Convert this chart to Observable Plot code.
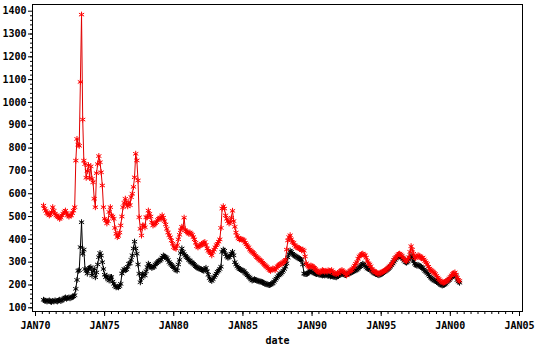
<!DOCTYPE html>
<html><head><meta charset="utf-8">
<script src="https://cdn.jsdelivr.net/npm/d3@7"></script>
<script src="https://cdn.jsdelivr.net/npm/@observablehq/plot@0.6"></script>
<style>html,body{margin:0;padding:0;background:#fff}</style>
</head><body><div id="chart"></div>
<script>
// Monthly series, first value = Aug 1970, last = Sep 2000
const firstYear = 1970, firstMonth = 8;
const redSeries = [
  548,534,525,515,512,
  505,510,519,541,525,512,505,500,497,490,495,505,
  512,520,526,515,505,500,505,505,515,526,541,745,
  840,815,810,1090,1385,925,745,730,670,700,725,670,
  720,665,650,578,541,690,730,765,738,694,636,541,
  490,483,470,480,520,541,505,500,490,450,425,410,
  415,430,461,500,541,560,578,556,545,563,550,585,
  600,630,672,775,746,658,497,446,417,461,460,453,
  497,497,526,512,500,475,461,465,470,475,485,490,
  495,490,505,495,480,465,446,430,418,409,395,381,
  366,362,359,375,400,420,440,455,450,495,440,435,
  430,425,430,425,420,410,400,385,370,365,370,375,
  380,378,385,388,375,360,350,345,340,330,345,355,
  365,375,380,390,400,450,535,545,535,505,490,480,
  470,475,495,525,480,455,430,415,405,400,402,400,
  398,395,385,378,370,365,355,350,345,340,335,328,
  322,318,312,308,305,298,293,288,282,278,272,266,
  262,268,272,270,265,275,282,286,290,293,295,300,
  305,310,355,395,410,418,400,388,385,375,368,366,
  362,360,358,352,355,350,325,295,285,280,282,285,
  283,278,275,270,264,260,256,255,260,265,262,258,
  262,258,264,262,260,265,258,252,250,248,252,250,
  258,262,265,260,255,250,242,248,258,262,265,270,
  278,285,293,300,315,325,330,335,337,332,330,320,
  305,295,290,282,270,263,260,256,255,250,249,252,
  255,258,260,262,265,270,275,280,285,292,300,310,
  318,322,330,335,337,333,328,320,312,307,305,312,
  322,345,370,355,337,322,318,325,330,328,320,318,
  320,312,305,298,292,280,272,266,262,258,252,248,
  240,232,226,220,215,212,210,212,215,218,222,228,
  235,242,248,252,255,245,232,222,218
];
const blackSeries = [
  135,132,130,128,130,
  132,128,126,130,128,132,130,128,132,135,130,133,
  138,142,145,140,143,145,142,145,148,150,155,183,
  222,262,265,366,475,337,355,270,262,250,270,275,
  278,242,260,271,234,255,290,322,340,329,300,270,
  245,234,240,225,220,234,235,215,205,195,190,192,
  190,195,205,250,262,270,265,268,280,293,295,310,
  330,360,390,360,337,290,249,212,230,249,245,242,
  260,278,293,285,280,275,278,280,290,295,300,305,
  307,312,320,329,325,322,318,310,300,293,288,282,
  278,270,265,263,290,310,340,360,345,335,328,322,
  318,310,307,300,298,293,288,282,278,275,272,270,
  268,265,263,270,275,260,245,230,222,218,225,235,
  242,250,258,263,270,280,345,355,350,335,325,320,
  322,330,337,345,330,300,290,282,275,270,268,265,
  262,260,252,248,242,236,232,225,220,222,225,222,
  220,218,216,215,214,212,210,206,204,203,201,200,
  202,205,208,214,222,228,235,242,246,250,256,262,
  270,280,295,320,335,350,345,337,332,328,325,322,
  318,315,312,310,290,250,248,248,250,255,260,263,
  258,255,252,250,248,250,246,245,244,242,244,242,
  245,243,240,242,238,240,238,236,235,234,238,240,
  244,248,250,248,245,244,246,248,250,253,256,258,
  260,263,265,268,272,278,282,288,293,290,284,278,
  272,270,271,266,260,256,252,249,248,245,243,245,
  248,252,255,258,262,266,270,275,280,287,294,302,
  310,316,322,326,328,324,320,314,306,300,298,302,
  310,320,330,320,305,293,288,285,288,285,280,278,
  275,268,262,258,252,245,238,232,228,224,220,218,
  215,212,208,205,200,198,200,202,206,212,218,222,
  228,234,238,242,244,238,222,215,210
];
const yTickValues = [100,200,300,400,500,600,700,800,900,1000,1100,1200,1300,1400];
const xTickYears = [1970,1975,1980,1985,1990,1995,2000,2005];
const xLabel = "date";

const toRows = (vals, series) => vals.map((v, i) => ({
  date: new Date(Date.UTC(firstYear, firstMonth - 1 + i, 1)), value: v, series
}));
const blackRows = toRows(blackSeries, "black");
const redRows = toRows(redSeries, "red");

const xMajor = xTickYears.map(y => new Date(Date.UTC(y, 0, 1)));
const xMinor = d3.utcMonth.every(6).range(xMajor[0], xMajor[xMajor.length - 1]);
const yMinor = d3.range(yTickValues[0], yTickValues[yTickValues.length - 1], 20);

const fmt = d => "JAN" + String(d.getUTCFullYear()).slice(2);

const chart = Plot.plot({
  width: 538, height: 351,
  marginLeft: 32, marginRight: 16, marginTop: 4, marginBottom: 40,
  insetLeft: 3, insetRight: 3, insetTop: 6.7, insetBottom: 3.7,
  style: {fontFamily: "'DejaVu Sans Mono', monospace", fontSize: "10px", fontWeight: "bold", background: "#fff", color: "#000"},
  x: {type: "utc", domain: [xMajor[0], xMajor[xMajor.length - 1]], label: null},
  y: {domain: [yTickValues[0], yTickValues[yTickValues.length - 1]], label: null},
  marks: [
    Plot.frame({stroke: "#000", strokeWidth: 1}),
    Plot.axisY(yMinor, {tickSize: 2, tickFormat: () => "", label: null, strokeWidth: 1}),
    Plot.axisY({ticks: yTickValues, tickSize: 4, tickPadding: 2, tickFormat: d => String(d), label: null, strokeWidth: 1}),
    Plot.axisX(xMinor, {tickSize: 3, tickFormat: () => "", label: null, strokeWidth: 1}),
    Plot.axisX({ticks: xMajor, tickSize: 5, tickPadding: 5, tickFormat: fmt, label: null, strokeWidth: 1}),
    Plot.line(blackRows, {x: "date", y: "value", stroke: "#000", strokeWidth: 1}),
    Plot.dot(blackRows, {x: "date", y: "value", symbol: "asterisk", r: 2.8, stroke: "#000", strokeWidth: 1}),
    Plot.line(redRows, {x: "date", y: "value", stroke: "#e00000", strokeWidth: 1}),
    Plot.dot(redRows, {x: "date", y: "value", symbol: "asterisk", r: 2.8, stroke: "#ff0000", strokeWidth: 1}),
    Plot.text([xLabel], {frameAnchor: "bottom", dy: 32, text: d => d, fontSize: 10, fontWeight: "bold"})
  ]
});
document.getElementById("chart").appendChild(chart);
</script>
</body></html>
